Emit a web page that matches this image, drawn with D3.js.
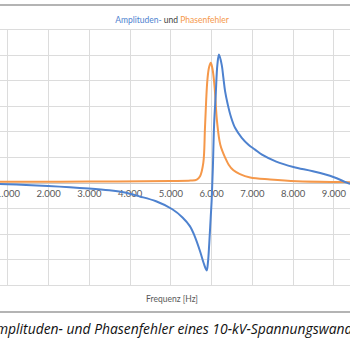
<!DOCTYPE html>
<html>
<head>
<meta charset="utf-8">
<script src="https://cdn.jsdelivr.net/npm/d3@7"></script>
<style>
  html, body { margin: 0; padding: 0; background: #fff; overflow: hidden; }
  svg { display: block; }
</style>
</head>
<body>
<svg id="chart" width="350" height="350"></svg>
<script>
// ---- Data ----
const chartTitleParts = [
  { text: "Amplituden-", color: "blue" },
  { text: " und ", color: "dark" },
  { text: "Phasenfehler", color: "orange" }
];
const xAxisTitle = "Frequenz [Hz]";
const caption = "Amplituden- und Phasenfehler eines 10-kV-Spannungswandlers";
const captionVisible = "Amplituden- und Phasenfehler eines 10-kV-Spannungswand";

const xTicks = [0, 1000, 2000, 3000, 4000, 5000, 6000, 7000, 8000, 9000, 10000];
const xTickLabels = [1000, 2000, 3000, 4000, 5000, 6000, 7000, 8000, 9000];
const yTicks = [-4, -3, -2, -1, 0, 1, 2, 3, 4, 5, 6];

// Amplitudenfehler (blue)
const ampFreq   = [0, 1000, 2000, 3000, 3500, 3850, 4250, 4650, 5050, 5300, 5480, 5600, 5730, 5820, 5893, 5925, 5955, 5990, 6016, 6045, 6075, 6115, 6155, 6195, 6262, 6303, 6344, 6410, 6484, 6589, 6754, 6918, 7080, 7250, 7600, 8020, 8500, 9000, 9330, 9600];
const ampValues = [-0.03, -0.06, -0.13, -0.23, -0.3, -0.38, -0.54, -0.73, -1.04, -1.36, -1.7, -2.1, -2.68, -3.15, -3.43, -3.1, -2.4, -1.4, -0.66, 0.6, 2.27, 3.44, 4.6, 5.0, 4.6, 4.09, 3.57, 3.05, 2.59, 2.14, 1.75, 1.48, 1.29, 1.09, 0.82, 0.61, 0.44, 0.22, 0.0, -0.15];

// Phasenfehler (orange)
const phaseFreq   = [0, 1000, 3000, 5000, 5500, 5650, 5730, 5810, 5850, 5880, 5910, 5950, 5995, 6040, 6089, 6146, 6227, 6350, 6433, 6550, 6710, 6960, 7450, 8100, 9200, 10000];
const phaseValues = [0.03, 0.03, 0.04, 0.06, 0.08, 0.12, 0.25, 0.77, 2.1, 3.2, 4.0, 4.5, 4.68, 4.4, 3.7, 2.4, 1.48, 0.96, 0.7, 0.48, 0.33, 0.2, 0.12, 0.05, 0.02, 0.01];

// ---- Drawing ----
const colors = { blue: "#4E82CF", orange: "#F5984A", dark: "#404040", grid: "#DCDCDC", axis: "#C8C8C8", text: "#595959", frame: "#B4B4B4" };

const svg = d3.select("#chart");
const W = 350, H = 350;

const x = d3.scaleLinear().domain([1000, 9000]).range([7.3, 333.3]);
const y = d3.scaleLinear().domain([-4, 6]).range([285, 29]);

// frame lines (chart border, cropped)
svg.append("line").attr("x1", 0).attr("x2", W).attr("y1", 5).attr("y2", 5)
  .attr("stroke", colors.frame).attr("stroke-width", 2);
svg.append("line").attr("x1", 0).attr("x2", W).attr("y1", 312).attr("y2", 312)
  .attr("stroke", colors.frame).attr("stroke-width", 2);

// gridlines
const grid = svg.append("g");
grid.selectAll("line.h").data(yTicks.filter(d => d !== 0)).join("line")
  .attr("x1", 0).attr("x2", W)
  .attr("y1", d => Math.round(y(d)) + 0.5).attr("y2", d => Math.round(y(d)) + 0.5)
  .attr("stroke", colors.grid).attr("stroke-width", 1);
grid.selectAll("line.v").data(xTicks).join("line")
  .attr("x1", d => Math.round(x(d)) + 0.5).attr("x2", d => Math.round(x(d)) + 0.5)
  .attr("y1", y(6)).attr("y2", y(-4))
  .attr("stroke", colors.grid).attr("stroke-width", 1);

// x axis at y = 0
const fmt = d3.formatLocale({ decimal: ",", thousands: ".", grouping: [3], currency: ["", "€"] }).format(",.0f");
const xAxis = d3.axisBottom(x).tickValues(xTickLabels).tickSize(0).tickPadding(7).tickFormat(d => fmt(d));
const gx = svg.append("g").attr("transform", `translate(0,${Math.round(y(0)) + 0.5})`).call(xAxis);
gx.select(".domain").remove();
gx.insert("line", ":first-child").attr("x1", 0).attr("x2", W).attr("y1", 0).attr("y2", 0)
  .attr("stroke", colors.axis).attr("stroke-width", 1);
gx.selectAll("text").attr("fill", colors.text).attr("font-family", "Lato, 'Open Sans', sans-serif").attr("font-size", 9.5);

// lines
const line = d3.line().curve(d3.curveCatmullRom.alpha(0.5));
const ampData = ampFreq.map((f, i) => [x(f), y(ampValues[i])]);
const phaseData = phaseFreq.map((f, i) => [x(f), y(phaseValues[i])]);

svg.append("path").attr("d", line(phaseData)).attr("fill", "none")
  .attr("stroke", colors.orange).attr("stroke-width", 2).attr("stroke-linejoin", "round");
svg.append("path").attr("d", line(ampData)).attr("fill", "none")
  .attr("stroke", colors.blue).attr("stroke-width", 2).attr("stroke-linejoin", "round");

// chart title
const title = svg.append("text").attr("x", 172).attr("y", 23).attr("text-anchor", "middle")
  .attr("font-family", "Lato, 'Open Sans', sans-serif").attr("font-size", 8.5);
chartTitleParts.forEach(p => title.append("tspan").text(p.text).attr("fill", colors[p.color]));

// axis title
svg.append("text").attr("x", 172).attr("y", 302).attr("text-anchor", "middle")
  .attr("font-family", "Lato, 'Open Sans', sans-serif").attr("font-size", 8.5)
  .attr("fill", colors.text).text(xAxisTitle);

// caption (cropped on both sides in the reference)
const cap = svg.append("text").attr("y", 334)
  .attr("font-family", "'Open Sans', Lato, sans-serif").attr("font-style", "italic")
  .attr("font-size", 13).attr("fill", "#111").text(caption);
const node = cap.node();
const aW = node.getSubStringLength(0, 1);
const visW = node.getSubStringLength(0, captionVisible.length) - aW;
const fs = 13 * 357 / visW;
cap.attr("font-size", fs);
const aW2 = node.getSubStringLength(0, 1);
cap.attr("x", -aW2 - 4);
</script>
</body>
</html>
